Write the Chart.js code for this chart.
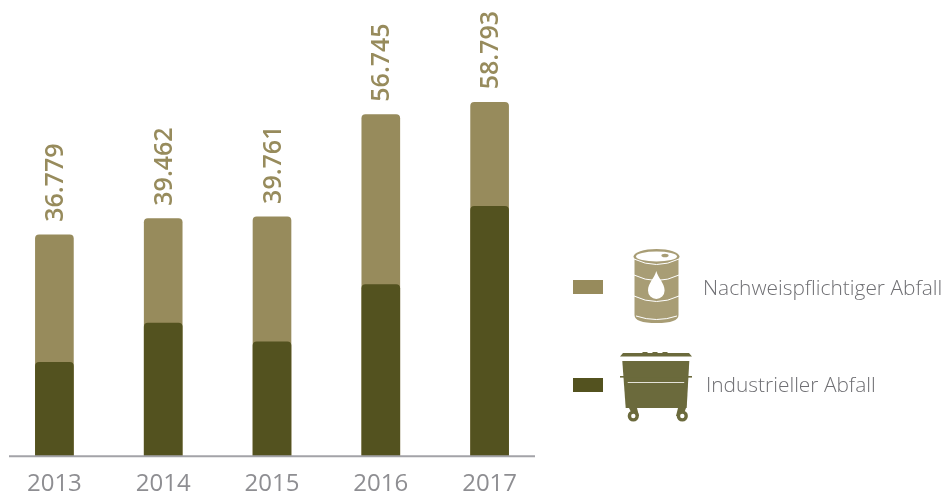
<!DOCTYPE html>
<html lang="de">
<head>
<meta charset="utf-8">
<title>Abfallaufkommen 2013–2017</title>
<script src="https://cdn.jsdelivr.net/npm/chart.js@4/dist/chart.umd.min.js"></script>
<style>
  html, body { margin: 0; padding: 0; background: #fff; }
  #stage { position: relative; width: 943px; height: 493px; overflow: hidden; font-family: "Open Sans", sans-serif; }
  #stage canvas { position: absolute; left: 0; top: 0; }
  .swatch { position: absolute; left: 573px; width: 30px; height: 14px; }
  .name { position: absolute; font-size: 20.9px; font-weight: 300; color: #6f6f73; white-space: nowrap; line-height: 24px; }
  .icon { position: absolute; display: block; }
</style>
</head>
<body>
<div id="stage">
  <canvas id="chart" width="943" height="493"></canvas>

  <div class="swatch" id="swatchHazardous" style="top:280px"></div>
  <svg class="icon" style="left:633px;top:249px" width="47" height="74" viewBox="0 0 47 74">
    <path fill="#a89d75" d="M1.5 8 H45.5 V66 Q45.5 74 23.5 74 Q1.5 74 1.5 66 Z"/>
    <ellipse cx="23.5" cy="7.5" rx="23" ry="7.5" fill="#a89d75"/>
    <ellipse cx="23.5" cy="7.5" rx="20.5" ry="5" fill="#fff"/>
    <ellipse cx="32" cy="6.5" rx="3.6" ry="1.8" fill="#a89d75"/>
    <g fill="none" stroke="#fff" stroke-width="1">
      <path d="M1 10 Q23.5 21 46 10"/>
      <path d="M1 26 Q23.5 37 46 26"/>
      <path d="M1 47 Q23.5 58 46 47"/>
      <path d="M3 67 Q23.5 74 44 67"/>
    </g>
    <path fill="#fff" d="M23.3 22 C25 29 31.6 34 31.6 41.5 A8.3 8.5 0 0 1 15 41.5 C15 34 21.6 29 23.3 22 Z"/>
  </svg>
  <div class="name" id="nameHazardous" style="left:703px;top:275px"></div>

  <div class="swatch" id="swatchIndustrial" style="top:378px"></div>
  <svg class="icon" style="left:620px;top:351px" width="72" height="72" viewBox="0 0 72 72">
    <g fill="#6b6a3c">
      <path d="M0 5.5 L3 2 H22 L23 1 H27 L28 2 H32 L33 1 H37 L38 2 H42 L43 1 H47 L48 2 H69 L72 5.5 Z"/>
      <path d="M2.3 10 H69.3 L66.7 57 H5.7 Z"/>
      <rect x="0" y="25" width="72" height="1.6"/>
      <path d="M9 57 H17 L19 65 H13 Z"/>
      <path d="M58 57 H66 L63 65 H56 Z"/>
      <circle cx="13.3" cy="65" r="5.6"/>
      <circle cx="62.3" cy="65" r="5.6"/>
    </g>
    <rect x="7.7" y="31" width="56.5" height="1" fill="#e4e2d8"/>
    <circle cx="13.3" cy="65" r="2.2" fill="#fff"/>
    <circle cx="62.3" cy="65" r="2.2" fill="#fff"/>
  </svg>
  <div class="name" id="nameIndustrial" style="left:706px;top:372px"></div>
</div>

<script>
// Abfallmengen je Jahr
const years = ["2013", "2014", "2015", "2016", "2017"];
const totalWaste = [36779, 39462, 39761, 56745, 58793];
const industrialWaste = [15600, 22100, 19000, 28500, 41500];
const totalLabels = ["36.779", "39.462", "39.761", "56.745", "58.793"];
const seriesNames = ["Nachweispflichtiger Abfall", "Industrieller Abfall"];

const lightColor = "#978b5c";
const darkColor = "#53521f";

document.getElementById("nameHazardous").textContent = seriesNames[0];
document.getElementById("nameIndustrial").textContent = seriesNames[1];
document.getElementById("swatchHazardous").style.background = lightColor;
document.getElementById("swatchIndustrial").style.background = darkColor;

// Grundlinie und senkrechte Summenwerte über den Säulen
const annotations = {
  id: "annotations",
  afterDatasetsDraw(chart) {
    const { ctx, scales: { x, y } } = chart;
    const base = y.getPixelForValue(0);
    ctx.save();
    ctx.strokeStyle = "#a3a3a8";
    ctx.lineWidth = 2;
    ctx.beginPath();
    ctx.moveTo(9, base);
    ctx.lineTo(535, base);
    ctx.stroke();

    ctx.fillStyle = lightColor;
    ctx.font = '600 25px "Open Sans", sans-serif';
    ctx.textAlign = "left";
    ctx.textBaseline = "middle";
    totalWaste.forEach((value, i) => {
      ctx.save();
      ctx.translate(x.getPixelForValue(i) + 1.5, y.getPixelForValue(value) - 13);
      ctx.rotate(-Math.PI / 2);
      ctx.fillText(totalLabels[i], 0, 0);
      ctx.restore();
    });
    ctx.restore();
  }
};

new Chart(document.getElementById("chart"), {
  type: "bar",
  data: {
    labels: years,
    datasets: [
      {
        label: seriesNames[1],
        data: industrialWaste,
        backgroundColor: darkColor,
        borderRadius: { topLeft: 4, topRight: 4 },
        borderSkipped: "bottom",
        barThickness: 38,
        order: 0
      },
      {
        label: seriesNames[0],
        data: totalWaste,
        backgroundColor: lightColor,
        borderRadius: { topLeft: 4, topRight: 4 },
        borderSkipped: "bottom",
        barThickness: 38,
        order: 1
      }
    ]
  },
  options: {
    responsive: false,
    animation: false,
    events: [],
    layout: { padding: { left: 0, right: 399, top: 0, bottom: -12 } },
    plugins: { legend: { display: false }, tooltip: { enabled: false } },
    scales: {
      x: {
        stacked: true,
        grid: { display: false },
        border: { display: false },
        ticks: {
          color: "#8e8e92",
          padding: 6,
          maxRotation: 0,
          font: { family: '"Open Sans", sans-serif', size: 24 }
        }
      },
      y: {
        stacked: false,
        display: false,
        min: 0,
        max: 75800
      }
    }
  },
  plugins: [annotations]
});
</script>
</body>
</html>
